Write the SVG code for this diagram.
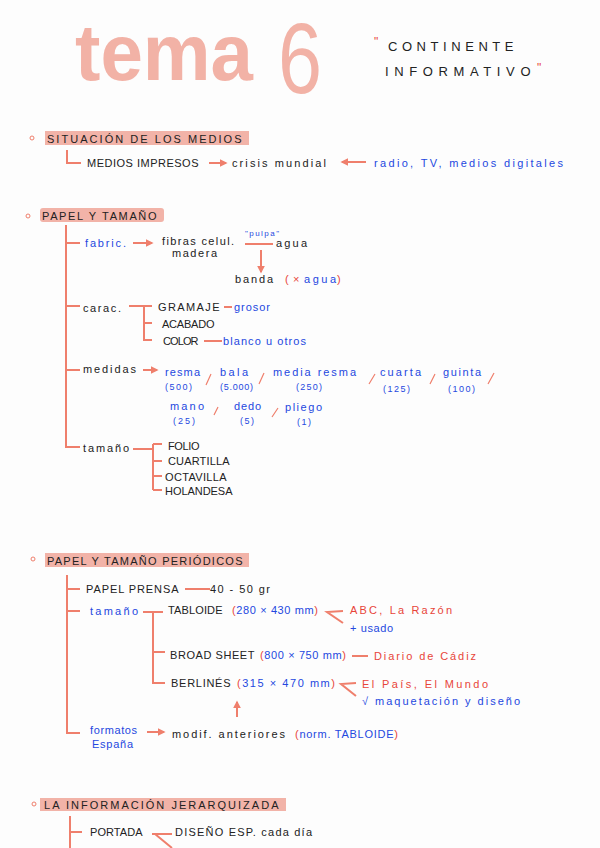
<svg xmlns="http://www.w3.org/2000/svg" width="600" height="848" viewBox="0 0 600 848">
<style>
text{font-family:"Liberation Sans",Arial,sans-serif;font-size:11px;fill:#222}
.c{font-size:11px;letter-spacing:1.5px}
.b{fill:#2448e0}
.r{fill:#e8453a}
.h{fill:#f2b3a8}
.ln{stroke:#ef7f6c;stroke-width:2;fill:none}
.ar{stroke:#ef7f6c;stroke-width:2;fill:none;marker-end:url(#ah)}
.dot{fill:none;stroke:#ef7f6c;stroke-width:1}
.sl{stroke:#ef7f6c;stroke-width:1.2}
</style>
<defs>
<marker id="ah" viewBox="0 0 10 10" refX="8" refY="5" markerWidth="4" markerHeight="4" orient="auto"><path d="M0,0L10,5L0,10z" fill="#ef7f6c"/></marker>
</defs>
<rect width="600" height="848" fill="#fdfdfd"/>

<g id="title">
<text x="75" y="80" textLength="178" lengthAdjust="spacingAndGlyphs" style="font-size:80px;font-weight:bold;fill:#f0a597;fill-opacity:0.85">tema</text>
<text x="278" y="93" textLength="44" lengthAdjust="spacingAndGlyphs" style="font-size:100px;fill:#f0a597;fill-opacity:0.85">6</text>
<text x="374" y="46" class="r" style="font-size:12px">"</text>
<text x="388" y="51" class="c" style="font-size:13px" textLength="127">CONTINENTE</text>
<text x="385" y="76" class="c" style="font-size:13px" textLength="147">INFORMATIVO</text>
<text x="537" y="72" class="r" style="font-size:12px">"</text>
</g>

<g id="sec1">
<circle cx="32" cy="138" r="2" class="dot"/>
<rect x="45" y="131" width="204" height="14" class="h"/>
<text x="47" y="143" class="c" textLength="196">SITUACIÓN DE LOS MEDIOS</text>
</g>
<g id="medios-impresos"><text x="87" y="167" class="c" textLength="113">MEDIOS IMPRESOS</text></g>
<g id="crisis"><text x="232" y="167" textLength="94">crisis mundial</text></g>
<g id="radio"><text x="374" y="167" class="b" textLength="189">radio, TV, medios digitales</text></g>

<g id="sec2">
<circle cx="28" cy="216" r="2" class="dot"/>
<rect x="40" y="208" width="124" height="14" rx="3" class="h"/>
<text x="42" y="220" class="c" textLength="116">PAPEL Y TAMAÑO</text>
</g>
<g id="fabric"><text x="85" y="247" class="b" textLength="41">fabric.</text></g>
<g id="fibras">
<text x="162" y="245" textLength="72">fibras celul.</text>
<text x="172" y="257" textLength="45">madera</text>
<text x="245" y="236" class="b" style="font-size:8px" textLength="34">"pulpa"</text>
<text x="276" y="247" textLength="31">agua</text>
</g>
<g id="banda">
<text x="235" y="283" textLength="38">banda</text>
<text x="285" y="283" class="r">(</text>
<text x="293" y="283" class="r">×</text>
<text x="304" y="283" class="b" textLength="32">agua</text>
<text x="337" y="283" class="r">)</text>
</g>
<g id="carac"><text x="83" y="312" textLength="38">carac.</text></g>
<g id="gramaje">
<text x="158" y="311" class="c" textLength="63">GRAMAJE</text>
<text x="234" y="311" class="b" textLength="36">grosor</text>
</g>
<g id="acabado"><text x="162" y="328" class="c" textLength="54">ACABADO</text></g>
<g id="color">
<text x="163" y="345" style="letter-spacing:0.5px" textLength="36">COLOR</text>
<text x="223" y="345" class="b" textLength="83">blanco u otros</text>
</g>
<g id="medidas">
<text x="83" y="373" textLength="53">medidas</text>
<text x="165" y="376" class="b" textLength="35">resma</text>
<text x="165" y="390" class="b" style="font-size:9px" textLength="27">(500)</text>
<text x="220" y="376" class="b" textLength="28">bala</text>
<text x="220" y="390" class="b" style="font-size:9px" textLength="33">(5.000)</text>
<text x="273" y="376" class="b" textLength="83">media resma</text>
<text x="296" y="390" class="b" style="font-size:9px" textLength="26">(250)</text>
<text x="380" y="376" class="b" textLength="41">cuarta</text>
<text x="383" y="392" class="b" style="font-size:9px" textLength="27">(125)</text>
<text x="443" y="376" class="b" textLength="38">guinta</text>
<text x="448" y="392" class="b" style="font-size:9px" textLength="27">(100)</text>
<text x="170" y="410" class="b" textLength="34">mano</text>
<text x="173" y="424" class="b" style="font-size:9px" textLength="22">(25)</text>
<text x="234" y="410" class="b" textLength="27">dedo</text>
<text x="240" y="424" class="b" style="font-size:9px" textLength="14">(5)</text>
<text x="285" y="411" class="b" textLength="37">pliego</text>
<text x="297" y="425" class="b" style="font-size:9px" textLength="14">(1)</text>
<path class="sl" d="M206,385L211,374M259,384L264,373M369,384L375,374M430,384L435,374M488,384L494,373M214,415L218,407M272,417L278,408"/>
</g>
<g id="tamano">
<text x="83" y="452" textLength="46">tamaño</text>
<text x="168" y="450" class="c" textLength="33">FOLIO</text>
<text x="168" y="465" class="c" textLength="63">CUARTILLA</text>
<text x="165" y="481" class="c" textLength="63">OCTAVILLA</text>
<text x="165" y="495" class="c" textLength="69">HOLANDESA</text>
</g>

<g id="sec3">
<circle cx="33" cy="559" r="2" class="dot"/>
<rect x="45" y="553" width="204" height="14" class="h"/>
<text x="47" y="565" class="c" textLength="197">PAPEL Y TAMAÑO PERIÓDICOS</text>
</g>
<g id="papel-prensa">
<text x="86" y="593" class="c" textLength="94">PAPEL PRENSA</text>
<text x="210" y="593" textLength="60">40 - 50 gr</text>
</g>
<g id="tamano2"><text x="90" y="615" class="b" textLength="48">tamaño</text></g>
<g id="tabloide">
<text x="168" y="614" class="c" textLength="56">TABLOIDE</text>
<text x="232" y="614" class="b" textLength="86"><tspan class="r">(</tspan>280 × 430 mm<tspan class="r">)</tspan></text>
<text x="350" y="614" class="r" textLength="102">ABC, La Razón</text>
<text x="350" y="632" class="b" textLength="43">+ usado</text>
</g>
<g id="broad">
<text x="170" y="659" class="c" textLength="86">BROAD SHEET</text>
<text x="260" y="659" class="b" textLength="86"><tspan class="r">(</tspan>800 × 750 mm<tspan class="r">)</tspan></text>
<text x="374" y="660" class="r" textLength="102">Diario de Cádiz</text>
</g>
<g id="berlines">
<text x="171" y="687" class="c" textLength="61">BERLINÉS</text>
<text x="237" y="687" class="b" textLength="98"><tspan class="r">(</tspan>315 × 470 mm<tspan class="r">)</tspan></text>
<text x="362" y="688" class="r" textLength="126">El País, El Mundo</text>
<text x="362" y="705" class="b" textLength="158">√ maquetación y diseño</text>
</g>
<g id="formatos">
<text x="90" y="734" class="b" textLength="47">formatos</text>
<text x="92" y="748" class="b" textLength="41">España</text>
</g>
<g id="modif">
<text x="172" y="738" textLength="113">modif. anteriores</text>
<text x="295" y="738" class="b" textLength="103"><tspan class="r">(</tspan>norm. TABLOIDE<tspan class="r">)</tspan></text>
</g>

<g id="sec4">
<circle cx="34" cy="804" r="2" class="dot"/>
<rect x="40" y="798" width="246" height="13" class="h"/>
<text x="44" y="809" class="c" textLength="236">LA INFORMACIÓN JERARQUIZADA</text>
</g>
<g id="portada">
<text x="90" y="836" class="c" textLength="54">PORTADA</text>
<text x="175" y="836" textLength="137">DISEÑO ESP. cada día</text>
</g>

<g id="connectors">
<path class="ln" d="M67,150V163H81"/>
<path class="ar" d="M209,163H226"/>
<path class="ar" d="M366,162H342"/>
<path class="ln" d="M66,225V447H80M66,243H80M66,306H80M66,370H80"/>
<path class="ar" d="M133,243H152"/>
<path class="ln" d="M245,244H273"/>
<path class="ar" d="M261,250V272"/>
<path class="ln" d="M129,306H152M144,306V340H152M144,323H152"/>
<path class="ln" d="M224,307H232M204,341H222"/>
<path class="ar" d="M143,370H157"/>
<path class="ln" d="M133,449H153M153,444V490M153,444H162M153,461H162M153,476H162M153,490H162"/>
<path class="ln" d="M67,575V733H80M67,589H80M67,611H80"/>
<path class="ln" d="M185,589H210"/>
<path class="ln" d="M143,612H163M153,612V683H165M153,652H165"/>
<path class="ln" d="M343,611L327,612L343,623"/>
<path class="ln" d="M352,656H368"/>
<path class="ln" d="M356,683L341,684L356,696"/>
<path class="ar" d="M237,717V702"/>
<path class="ar" d="M147,732H164"/>
<path class="ln" d="M70,816V848M70,832H82"/>
<path class="ln" d="M152,834H172M155,834L172,848"/>
</g>
</svg>
